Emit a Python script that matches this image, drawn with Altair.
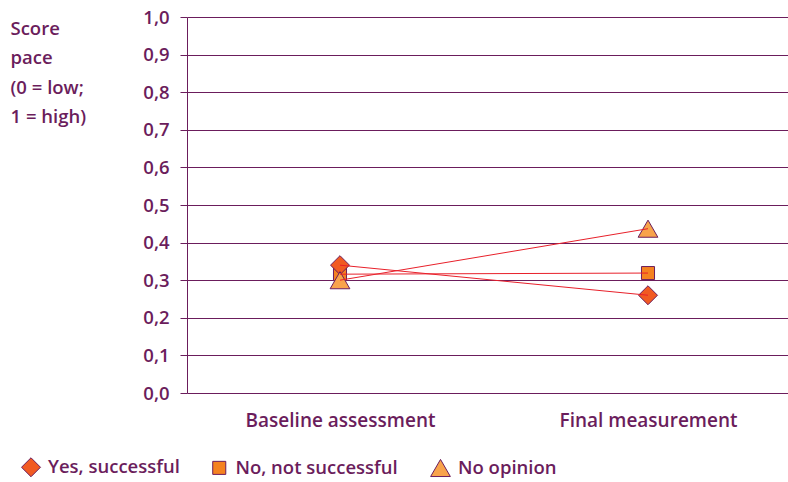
import altair as alt
import pandas as pd

categories = ["Baseline assessment", "Final measurement"]
series = ["Yes, successful", "No, not successful", "No opinion"]
yes_vals = [0.34, 0.26]
no_vals = [0.316, 0.319]
noop_vals = [0.30, 0.437]

# drawing order: square first, then diamond, then triangle
draw_order = [("No, not successful", no_vals), ("Yes, successful", yes_vals),
              ("No opinion", noop_vals)]
rows = []
for s, vals in draw_order:
    for i, (c, v) in enumerate(zip(categories, vals)):
        rows.append({"idx": i, "cat": c, "series": s, "value": v})
df = pd.DataFrame(rows)

PURPLE = "#6b1d5c"
FONT = "Open Sans"

label_expr = "datum.value == 0 ? '%s' : '%s'" % (categories[0], categories[1])
x = alt.X("idx:Q", title=None,
          scale=alt.Scale(domain=[-153 / 308, 448 / 308], nice=False, zero=False),
          axis=alt.Axis(values=[0, 1], labelExpr=label_expr, ticks=False, domain=False,
                        grid=False, labelAngle=0, labelPadding=18, labelFontSize=19,
                        labelLimit=0))
y = alt.Y("value:Q", title=["Score", "pace", "(0 = low;", "1 = high)"],
          scale=alt.Scale(domain=[0, 1], nice=False),
          axis=alt.Axis(values=[i / 10 for i in range(11)],
                        labelExpr="replace(format(datum.value, '.1f'), '.', ',')",
                        tickSize=7, labelPadding=11, grid=True,
                        titleAngle=0, titleAlign="left", titleBaseline="top",
                        titleX=-177, titleY=2, titleLineHeight=29.5))

leg = alt.Legend(title=None, orient="none", direction="horizontal",
                 legendX=-166, legendY=440, columnPadding=30, labelOffset=7,
                 labelLimit=0, symbolStrokeColor=PURPLE, symbolStrokeWidth=1)

points = alt.Chart(df).mark_point(filled=True, opacity=1, stroke=PURPLE, strokeWidth=1).encode(
    x=x, y=y,
    color=alt.Color("series:N", sort=series,
                    scale=alt.Scale(domain=series, range=["#f15a22", "#f58220", "#f8a34b"]),
                    legend=leg),
    shape=alt.Shape("series:N", sort=series,
                    scale=alt.Scale(domain=series, range=["diamond", "square", "triangle-up"]),
                    legend=leg),
    size=alt.Size("series:N", sort=series,
                  scale=alt.Scale(type="ordinal", domain=series, range=[360, 170, 390]),
                  legend=leg),
)

lines = alt.Chart(df).mark_line(color="#e8202a", strokeWidth=1).encode(
    x=x, y=y, detail="series:N"
)

chart = alt.layer(points, lines).properties(
    width=601, height=376,
    autosize=alt.AutoSizeParams(type="none"),
    padding={"left": 187, "top": 17, "right": 0, "bottom": 89},
).configure_view(stroke=None).configure_axis(
    labelFont=FONT, titleFont=FONT, labelFontSize=18.5, titleFontSize=18.5,
    labelFontWeight=600, titleFontWeight=600,
    labelColor=PURPLE, titleColor=PURPLE,
    gridColor=PURPLE, gridOpacity=1, gridWidth=1,
    domainColor=PURPLE, tickColor=PURPLE, domainWidth=1, tickWidth=1,
).configure_legend(
    labelFont=FONT, labelFontSize=18.5, labelFontWeight=600, labelColor=PURPLE,
)

chart.save("out.html", embed_options={"renderer": "svg", "actions": False})
